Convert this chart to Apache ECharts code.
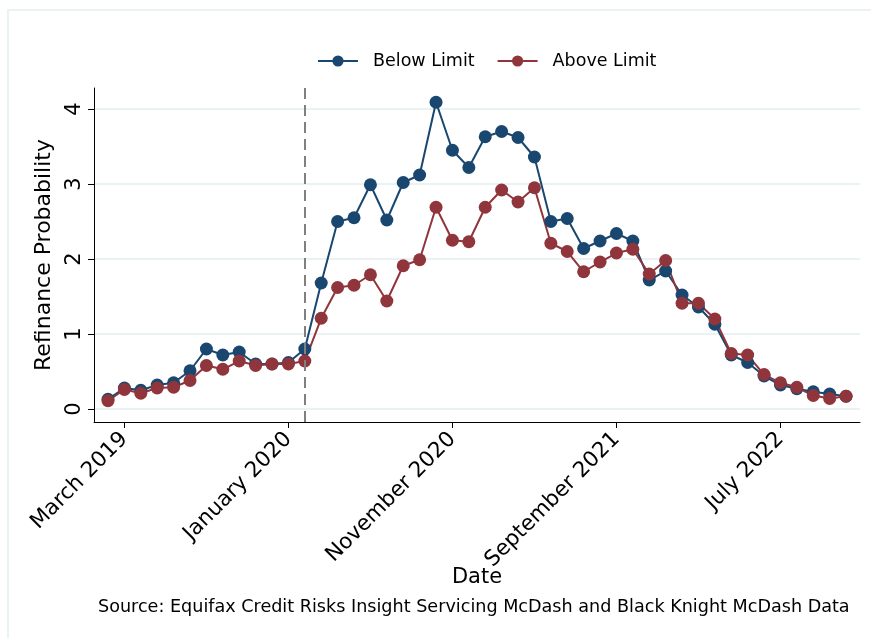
<!DOCTYPE html>
<html>
<head>
<meta charset="utf-8">
<script src="https://cdn.jsdelivr.net/npm/echarts@6/dist/echarts.min.js"></script>
<style>
  html, body { margin: 0; padding: 0; background: #fff; }
  #main { width: 871px; height: 638px; }
</style>
</head>
<body>
<div id="main"></div>
<script>
// monthly, Feb 2019 .. Nov 2022 (index 0..45)
var belowLimit = [0.13, 0.28, 0.25, 0.32, 0.35, 0.51, 0.80, 0.72, 0.76, 0.60, 0.60, 0.62,
  0.80, 1.68, 2.50, 2.55, 2.99, 2.52, 3.02, 3.12, 4.09, 3.45, 3.22, 3.63, 3.70, 3.62,
  3.36, 2.50, 2.54, 2.14, 2.24, 2.34, 2.24, 1.72, 1.84, 1.52, 1.36, 1.13, 0.72, 0.62,
  0.44, 0.32, 0.27, 0.23, 0.20, 0.17];
var aboveLimit = [0.11, 0.26, 0.21, 0.28, 0.29, 0.38, 0.58, 0.53, 0.64, 0.58, 0.60, 0.60,
  0.64, 1.21, 1.62, 1.65, 1.79, 1.44, 1.91, 1.99, 2.69, 2.25, 2.23, 2.69, 2.92, 2.76,
  2.95, 2.21, 2.10, 1.83, 1.96, 2.08, 2.13, 1.80, 1.98, 1.41, 1.41, 1.20, 0.74, 0.72,
  0.46, 0.35, 0.29, 0.18, 0.14, 0.17];

// x tick positions (month index) and their labels
var xTickIdx = [1, 11, 21, 31, 41];
var xTickLabels = ['March 2019', 'January 2020', 'November 2020', 'September 2021', 'July 2022'];
var yTicks = [0, 1, 2, 3, 4];
var eventIdx = 12; // Feb 2020 dashed line

var FONT = 'DejaVu Sans';
var navy = '#1a476f';
var maroon = '#90353b';

function pairs(arr) {
  return arr.map(function (v, i) { return [i, v]; });
}

var chart = echarts.init(document.getElementById('main'));

var option = {
  animation: false,
  textStyle: { fontFamily: FONT },
  graphic: [
    {
      type: 'rect',
      shape: { x: 8, y: 10, width: 900, height: 700 },
      style: { fill: 'none', stroke: '#eaf2f3', lineWidth: 2 },
      silent: true
    },
    {
      // x axis title
      type: 'text',
      x: 477,
      y: 578,
      style: {
        text: 'Date',
        fontFamily: FONT,
        fontSize: 21,
        fill: '#000',
        align: 'center',
        verticalAlign: 'middle'
      }
    },
    {
      type: 'text',
      left: 98,
      top: 598,
      style: {
        text: 'Source: Equifax Credit Risks Insight Servicing McDash and Black Knight McDash Data',
        fontFamily: FONT,
        fontSize: 17.6,
        fill: '#000'
      }
    }
  ],
  legend: {
    top: 47,
    left: 312,
    itemWidth: 40,
    itemHeight: 14,
    itemGap: 22,
    textStyle: { fontFamily: FONT, fontSize: 17.5, color: '#000', padding: [0, 0, 0, 10] },
    data: ['Below Limit', 'Above Limit']
  },
  grid: { left: 94, right: 11, top: 88, bottom: 216, containLabel: false },
  xAxis: {
    type: 'value',
    min: -0.854,
    max: 45.85,
    axisLine: { onZero: false, lineStyle: { color: '#000', width: 1 } },
    axisTick: { show: true, length: 6, customValues: xTickIdx, lineStyle: { color: '#000' } },
    axisLabel: {
      customValues: xTickIdx,
      rotate: 45,
      margin: 14,
      fontFamily: FONT,
      fontSize: 21.5,
      color: '#000',
      formatter: function (v) {
        var k = xTickIdx.indexOf(Math.round(v));
        return k >= 0 ? xTickLabels[k] : '';
      }
    },
    splitLine: { show: false }
  },
  yAxis: {
    type: 'value',
    min: -0.173,
    max: 4.28,
    name: 'Refinance Probability',
    nameLocation: 'middle',
    nameRotate: 90,
    nameGap: 39,
    nameTextStyle: { fontFamily: FONT, fontSize: 22, color: '#000' },
    axisLine: { show: true, onZero: false, lineStyle: { color: '#000', width: 1 } },
    axisTick: { show: true, length: 6, customValues: yTicks, lineStyle: { color: '#000' } },
    axisLabel: {
      customValues: yTicks,
      rotate: 90,
      margin: 9,
      fontFamily: FONT,
      fontSize: 21,
      color: '#000'
    },
    splitLine: { show: true, lineStyle: { color: '#eaf2f3', width: 2 } }
  },
  series: [
    {
      name: 'Below Limit',
      type: 'line',
      data: pairs(belowLimit),
      symbol: 'circle',
      symbolSize: 13,
      itemStyle: { color: navy },
      lineStyle: { color: navy, width: 2 },
      markLine: {
        silent: true,
        symbol: 'none',
        label: { show: false },
        lineStyle: { color: '#808080', type: [11, 6], width: 2 },
        data: [{ xAxis: eventIdx }]
      }
    },
    {
      name: 'Above Limit',
      type: 'line',
      data: pairs(aboveLimit),
      symbol: 'circle',
      symbolSize: 13,
      itemStyle: { color: maroon },
      lineStyle: { color: maroon, width: 2 }
    }
  ]
};

chart.setOption(option);
</script>
</body>
</html>
